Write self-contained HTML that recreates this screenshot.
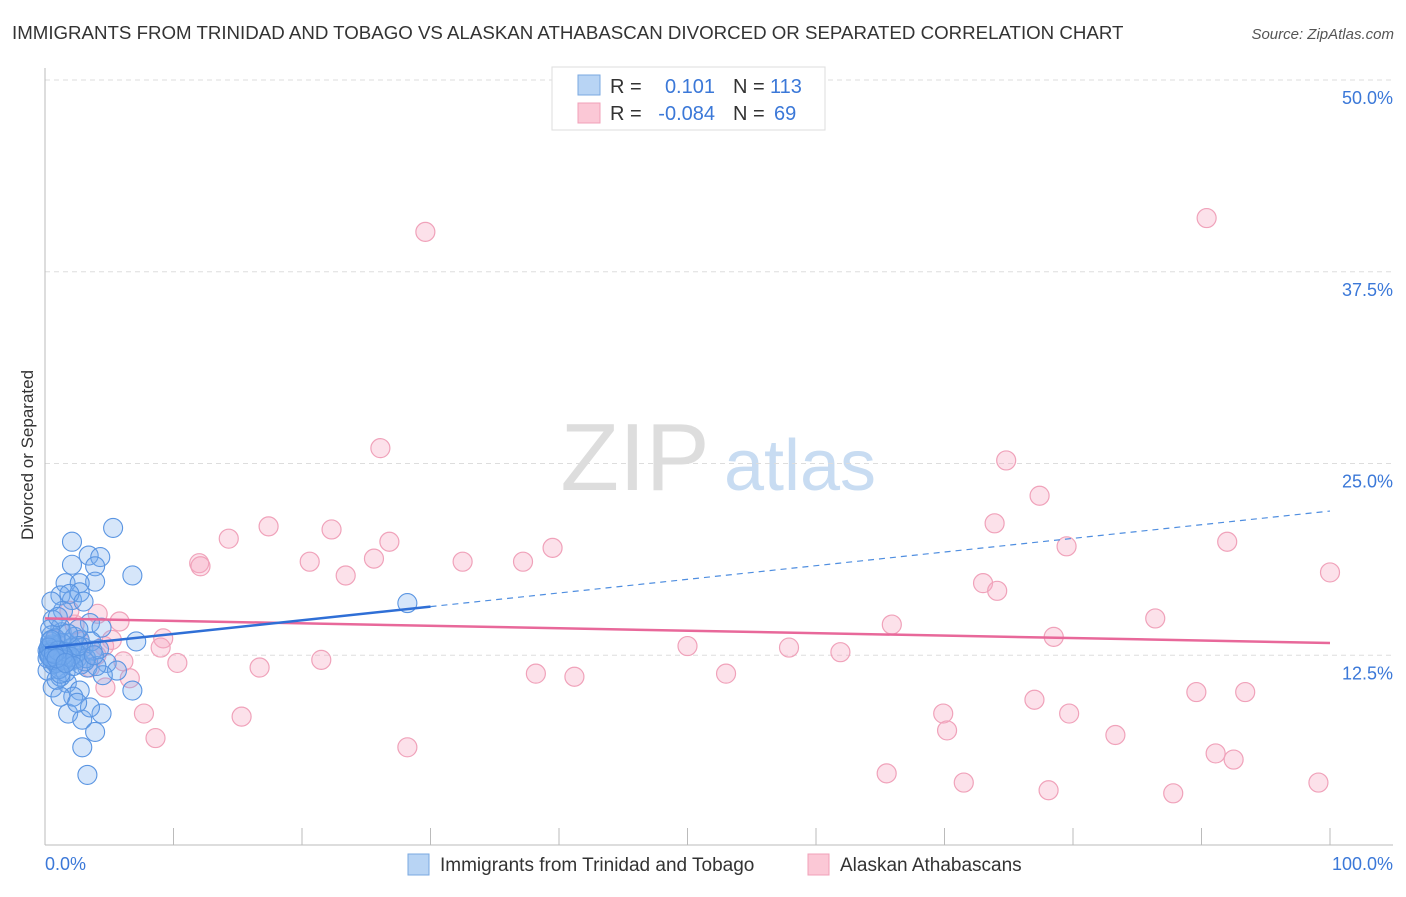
<!DOCTYPE html>
<html><head><meta charset="utf-8"><style>
body{margin:0;background:#fff;font-family:"Liberation Sans",sans-serif;}
svg text{font-family:"Liberation Sans",sans-serif;}
</style></head><body>
<svg id="chart" width="1406" height="892" xmlns="http://www.w3.org/2000/svg">
<text x="12" y="39" font-size="18.7" fill="#333">IMMIGRANTS FROM TRINIDAD AND TOBAGO VS ALASKAN ATHABASCAN DIVORCED OR SEPARATED CORRELATION CHART</text>
<text x="1394" y="39" font-size="15" fill="#555" text-anchor="end" font-style="italic">Source: ZipAtlas.com</text>
<g>
<text x="635" y="490" font-size="96" fill="#ddd" font-family="Liberation Serif,serif" text-anchor="middle">ZIP</text>
<text x="800" y="490" font-size="72" fill="#c8dcf2" text-anchor="middle">atlas</text>
</g>
<g id="grid"></g>
<g id="axes"></g>
<g id="pink"></g>
<g id="blue"></g>
<g id="trends"></g>
<text transform="translate(33,455) rotate(-90)" font-size="17" fill="#333" text-anchor="middle">Divorced or Separated</text>
<g>
<rect x="552" y="67" width="273" height="63" fill="#fff" stroke="#ddd"/>
<rect x="578" y="75" width="22" height="20" fill="#b8d4f4" stroke="#7aa8e0"/>
<rect x="578" y="103" width="22" height="20" fill="#fbc8d6" stroke="#f0a0b8"/>
<text x="610" y="93" font-size="20" fill="#333">R =</text>
<text x="715" y="93" font-size="20" fill="#3b78d8" text-anchor="end">0.101</text>
<text x="733" y="93" font-size="20" fill="#333">N =</text>
<text x="770" y="93" font-size="20" fill="#3b78d8">113</text>
<text x="610" y="120" font-size="20" fill="#333">R =</text>
<text x="715" y="120" font-size="20" fill="#3b78d8" text-anchor="end">-0.084</text>
<text x="733" y="120" font-size="20" fill="#333">N =</text>
<text x="774" y="120" font-size="20" fill="#3b78d8">69</text>
</g>
<g>
<rect x="408" y="854" width="21" height="21" fill="#b8d4f4" stroke="#7aa8e0"/>
<text x="440" y="871" font-size="19" fill="#333">Immigrants from Trinidad and Tobago</text>
<rect x="808" y="854" width="21" height="21" fill="#fbc8d6" stroke="#f0a0b8"/>
<text x="840" y="871" font-size="19" fill="#333">Alaskan Athabascans</text>
</g>
</svg>
<script>
const yTicks=[12.5,25,37.5,50];
const yTickLabels=["12.5%","25.0%","37.5%","50.0%"];
const xTicks=[0,10,20,30,40,50,60,70,80,90,100];
const xTickLabels=["0.0%","100.0%"];
const pinkX=[29.6,90.4,26.1,74.8,77.4,73.9,79.5,92.0,14.3,17.4,22.3,26.8,12.0,12.1,20.6,23.4,25.6,32.5,37.2,39.5,73.0,74.1,100,86.4,65.9,78.5,50.0,57.9,61.9,9.2,9.0,10.3,16.7,21.5,38.2,41.2,53.0,89.6,93.4,77.0,69.9,79.7,70.2,7.7,15.3,8.6,28.2,83.3,91.1,92.5,65.5,71.5,78.1,87.8,99.1,4.1,5.8,4.6,6.1,6.6,4.7,2.3,2.7,1.2,4.0,3.5,5.2,1.9,0.8];
const pinkY=[40.1,41.0,26.0,25.2,22.9,21.1,19.6,19.9,20.1,20.9,20.7,19.9,18.5,18.3,18.6,17.7,18.8,18.6,18.6,19.5,17.2,16.7,17.9,14.9,14.5,13.7,13.1,13.0,12.7,13.6,13.0,12.0,11.7,12.2,11.3,11.1,11.3,10.1,10.1,9.6,8.7,8.7,7.6,8.7,8.5,7.1,6.5,7.3,6.1,5.7,4.8,4.2,3.7,3.5,4.2,15.2,14.7,13.1,12.1,11.0,10.4,14.5,13.4,12.5,12.5,11.7,13.5,15.4,13.5];
const blueX=[5.3,6.8,28.2,7.1,6.8,2.1,3.4,4.3,2.1,3.9,3.9,1.6,2.7,1.2,2.1,2.7,1.4,0.6,1.2,3.5,4.4,0.4,0.6,1.7,2.7,3.7,2.2,1.2,3.3,4.8,5.6,4.5,0.6,1.7,2.7,1.2,1.8,2.9,4.4,3.5,3.9,2.9,3.3,2.2,1.2,2.5,0.3,0.5,0.8,1.0,1.5,2.0,2.5,3.0,0.2,1.3,1.8,2.8,3.6,4.0,0.9,1.6,2.3,0.4,1.1,0.7,1.9,3.0,0.5,2.6,1.0,0.3,0.6,0.9,1.2,0.4,0.8,1.4,2.4,3.2,4.2,0.2,0.5,1.0,1.7,2.1,3.1,0.3,0.7,1.3,2.0,0.6,1.5,2.6,3.8,0.4,0.9,1.1,0.2,0.5,0.8,1.4,2.2,0.3,0.6,1.0,1.8,0.4,0.7,1.2,0.5,0.9,1.6];
const blueY=[20.8,17.7,15.9,13.4,10.2,19.9,19.0,18.9,18.4,18.3,17.3,17.2,17.2,16.4,16.1,16.6,15.4,14.8,14.3,14.6,14.3,13.0,12.8,13.3,13.5,12.8,12.2,11.7,11.7,12.0,11.5,11.2,10.4,10.7,10.2,11.1,8.7,8.3,8.7,9.1,7.5,6.5,4.7,9.8,9.8,9.4,12.5,13.8,12.0,13.2,12.6,12.9,12.3,13.0,11.5,14.0,12.1,11.9,13.4,11.8,10.9,11.4,13.7,14.2,12.4,13.0,16.5,16.0,16.0,14.2,15.0,12.7,12.9,12.6,12.8,13.1,12.4,12.2,12.6,12.3,12.9,12.8,13.2,12.5,12.7,13.0,12.1,12.6,12.9,13.3,12.4,11.9,12.2,13.1,12.5,13.4,12.0,11.6,12.3,12.7,13.6,12.5,11.8,13.0,12.2,12.8,13.9,12.4,12.6,11.3,13.5,12.3,12.0];
const blueTrend=[13.0,21.9];
const pinkTrend=[14.9,13.3];
const blueSolidEnd=30;

const NS="http://www.w3.org/2000/svg";
const X0=45,X1=1330,Y0=847,Y50=80;
function xs(v){return X0+(X1-X0)*v/100;}
function ys(v){return Y0-(Y0-Y50)*v/50;}
function mk(tag,attrs,parent){const e=document.createElementNS(NS,tag);for(const k in attrs)e.setAttribute(k,attrs[k]);parent.appendChild(e);return e;}
const grid=document.getElementById('grid'),axes=document.getElementById('axes');
yTicks.forEach((t,i)=>{
 const l=mk('line',{x1:45,x2:1393,y1:ys(t),y2:ys(t),stroke:'#ddd','stroke-dasharray':'5,4'},grid);
 
 
 const tx=mk('text',{x:1393,y:ys(t)+24,'font-size':18,fill:'#3b78d8','text-anchor':'end'},axes);
 tx.textContent=yTickLabels[i];
 
 
});
const ya=mk('line',{x1:45,x2:45,y1:68,y2:845,stroke:'#bbb'},axes);


const xa=mk('line',{x1:45,x2:1393,y1:845,y2:845,stroke:'#bbb'},axes);


xTicks.forEach(t=>{
 const l=mk('line',{x1:xs(t),x2:xs(t),y1:828,y2:845,stroke:'#bbb'},axes);
 
 
});
const xl0=mk('text',{x:45,y:870,'font-size':18,fill:'#3b78d8'},axes);
xl0.textContent=xTickLabels[0];


const xl1=mk('text',{x:1393,y:870,'font-size':18,fill:'#3b78d8','text-anchor':'end'},axes);
xl1.textContent=xTickLabels[1];


const pg=document.getElementById('pink');
pinkX.forEach((v,i)=>{
 const c=mk('circle',{cx:xs(v),cy:ys(pinkY[i]),r:9.5,fill:'rgba(246,168,194,0.35)',stroke:'#f0a2ba','stroke-width':1.2},pg);
 
 
});
const bg=document.getElementById('blue');
blueX.forEach((v,i)=>{
 const c=mk('circle',{cx:xs(v),cy:ys(blueY[i]),r:9.5,fill:'rgba(120,172,238,0.3)',stroke:'#5a95e2','stroke-width':1.1},bg);
 
 
});
const tg=document.getElementById('trends');
function bt(x){return blueTrend[0]+(blueTrend[1]-blueTrend[0])*x/100;}
const pl=mk('line',{x1:xs(0),y1:ys(pinkTrend[0]),x2:xs(100),y2:ys(pinkTrend[1]),stroke:'#e8689a','stroke-width':2.5},tg);


const bl=mk('line',{x1:xs(0),y1:ys(bt(0)),x2:xs(blueSolidEnd),y2:ys(bt(blueSolidEnd)),stroke:'#2f6fd6','stroke-width':2.5},tg);


const bd=mk('line',{x1:xs(blueSolidEnd),y1:ys(bt(blueSolidEnd)),x2:xs(100),y2:ys(bt(100)),stroke:'#4f8ee0','stroke-width':1.2,'stroke-dasharray':'6,5'},tg);


</script>
</body></html>
